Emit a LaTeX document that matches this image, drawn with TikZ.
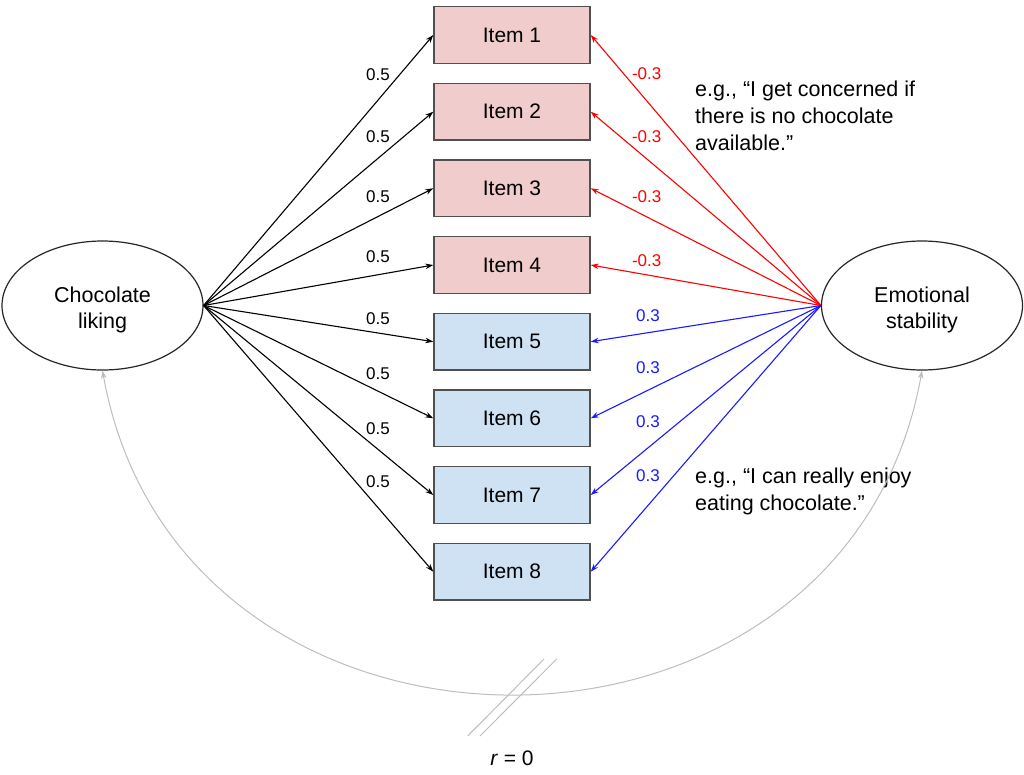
\documentclass[tikz,border=0pt]{standalone}
\usepackage{fontspec}
\setmainfont{Liberation Sans}
\usetikzlibrary{arrows.meta,shapes.geometric,calc}
\definecolor{pinkfill}{HTML}{F0CCCC}
\definecolor{bluefill}{HTML}{CFE2F3}
\definecolor{boxline}{HTML}{505050}
\definecolor{curvegray}{HTML}{BDBDBD}
\definecolor{myred}{HTML}{FF0000}
\definecolor{myblue}{HTML}{1A1AFF}
\begin{document}
\begin{tikzpicture}[x=1pt,y=-1pt,
  latent/.style={ellipse,draw=black!85,line width=1.2pt,minimum width=201pt,minimum height=129pt,inner sep=0pt},
  latenttext/.style={align=center,yshift=-4pt,font=\fontsize{21.5}{26}\selectfont},
  itembox/.style={rectangle,draw=boxline,line width=1.4pt,minimum width=156pt,minimum height=56.7pt,inner sep=0pt,font=\fontsize{21}{25}\selectfont},
  redbox/.style={itembox,fill=pinkfill},
  bluebox/.style={itembox,fill=bluefill},
  tip/.style={-{Stealth[length=8pt,width=5.5pt]}},
  blackarrow/.style={tip,line width=1.1pt,black},
  redarrow/.style={tip,line width=1.1pt,myred},
  bluearrow/.style={tip,line width=1.1pt,myblue},
  wlabel/.style={font=\fontsize{17}{19}\selectfont,inner sep=0pt},
  note/.style={font=\fontsize{21.5}{27}\selectfont,align=left,anchor=west,inner sep=0pt},
  corr/.style={{Stealth[length=8pt,width=5.5pt]}-{Stealth[length=8pt,width=5.5pt]},line width=1pt,curvegray},
  slash/.style={line width=1pt,curvegray}
]
\useasboundingbox (0,0) rectangle (1024,774);

\node[latent,label={[latenttext]center:Chocolate\\liking}] (lc) at (102.5,305.5) {};
\node[latent,label={[latenttext]center:Emotional\\stability}] (es) at (922,305.5) {};

\node[redbox] (i1) at (512,35) {Item 1};
\node[redbox] (i2) at (512,111.7) {Item 2};
\node[redbox] (i3) at (512,188.3) {Item 3};
\node[redbox] (i4) at (512,265) {Item 4};
\node[bluebox] (i5) at (512,341.7) {Item 5};
\node[bluebox] (i6) at (512,418.3) {Item 6};
\node[bluebox] (i7) at (512,495) {Item 7};
\node[bluebox] (i8) at (512,571.7) {Item 8};

\foreach \i in {1,...,8}{
  \draw[blackarrow] (lc.east) -- (i\i.west);
}
\foreach \i in {1,...,4}{
  \draw[redarrow] (es.west) -- (i\i.east);
}
\foreach \i in {5,...,8}{
  \draw[bluearrow] (es.west) -- (i\i.east);
}

\node[wlabel] (l1) at (378,74.3) {0.5};
\node[wlabel] (l2) at (378,137) {0.5};
\node[wlabel] (l3) at (378,196.7) {0.5};
\node[wlabel] (l4) at (378,256.7) {0.5};
\node[wlabel] (l5) at (378,318.3) {0.5};
\node[wlabel] (l6) at (378,373.3) {0.5};
\node[wlabel] (l7) at (378,428.3) {0.5};
\node[wlabel] (l8) at (378,481.7) {0.5};

\node[wlabel,text=myred] (r1) at (646.7,73.3) {-0.3};
\node[wlabel,text=myred] (r2) at (646.7,136.7) {-0.3};
\node[wlabel,text=myred] (r3) at (646.7,196.7) {-0.3};
\node[wlabel,text=myred] (r4) at (646.7,260.7) {-0.3};
\node[wlabel,text=myblue] (b5) at (648,315.7) {0.3};
\node[wlabel,text=myblue] (b6) at (648,367.7) {0.3};
\node[wlabel,text=myblue] (b7) at (648,421.7) {0.3};
\node[wlabel,text=myblue] (b8) at (648,476) {0.3};

\node[note] (n1) at (695,116) {e.g., “I get concerned if\\there is no chocolate\\available.”};
\node[note] (n2) at (695,491) {e.g., “I can really enjoy\\eating chocolate.”};

\draw[corr] (lc.south) .. controls +(77,431) and +(-77,431) .. (es.south);

\coordinate (s1a) at (467.7,736);
\coordinate (s1b) at (544,659);
\coordinate (s2a) at (480,736);
\coordinate (s2b) at (556.7,659);
\draw[slash] (s1a) -- (s1b);
\draw[slash] (s2a) -- (s2b);

\node[font=\fontsize{21}{25}\selectfont] (rz) at (512,758) {\textit{r} = 0};
\end{tikzpicture}
\end{document}
